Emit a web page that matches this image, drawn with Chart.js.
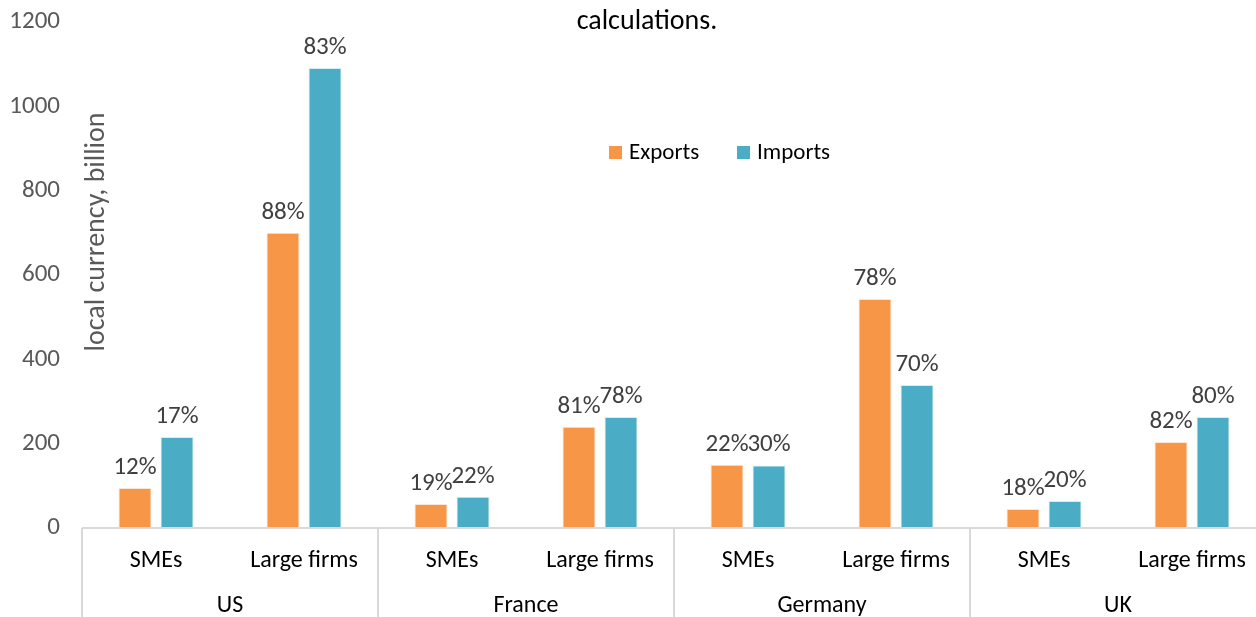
<!DOCTYPE html>
<html>
<head>
<meta charset="utf-8">
<script src="https://cdn.jsdelivr.net/npm/chart.js@4"></script>
<style>
  html, body { margin: 0; padding: 0; background: #fff; overflow: hidden; }
  #wrap { width: 1268px; height: 617px; }
</style>
</head>
<body>
<div id="wrap"><canvas id="chart" width="1268" height="617"></canvas></div>
<script>
// data
const subLabels = ['SMEs', 'Large firms', 'SMEs', 'Large firms', 'SMEs', 'Large firms', 'SMEs', 'Large firms'];
const countries = ['US', 'France', 'Germany', 'UK'];
const exportsVal = [95, 700, 57, 240, 150, 543, 45, 204];
const importsVal = [216, 1091, 74, 263, 148, 339, 64, 263];
const exportsPct = ['12%', '88%', '19%', '81%', '22%', '78%', '18%', '82%'];
const importsPct = ['17%', '83%', '22%', '78%', '30%', '70%', '20%', '80%'];
const yTicks = [0, 200, 400, 600, 800, 1000, 1200];

const FONT = 'Carlito, Lato, sans-serif';
const orange = '#F79646';
const blue = '#4BACC6';

const extras = {
  id: 'extras',
  afterDraw(chart) {
    const ctx = chart.ctx;
    const area = chart.chartArea;
    const xs = chart.scales.x;
    const step = xs.getPixelForValue(1) - xs.getPixelForValue(0);
    ctx.save();

    // axis line and group separators
    ctx.strokeStyle = '#d9d9d9';
    ctx.lineWidth = 2;
    ctx.beginPath();
    ctx.moveTo(area.left, area.bottom);
    ctx.lineTo(chart.width, area.bottom);
    for (let g = 0; g <= countries.length; g++) {
      const x = Math.round(xs.getPixelForValue(g * 2) - step / 2);
      ctx.moveTo(x, area.bottom);
      ctx.lineTo(x, chart.height);
    }
    ctx.stroke();

    // country labels
    ctx.fillStyle = '#000';
    ctx.font = '24px ' + FONT;
    ctx.textAlign = 'center';
    ctx.textBaseline = 'middle';
    countries.forEach((c, g) => {
      const x = (xs.getPixelForValue(g * 2) + xs.getPixelForValue(g * 2 + 1)) / 2;
      ctx.fillText(c, x, area.bottom + 78);
    });

    // value labels
    ctx.fillStyle = '#404040';
    ctx.font = '25px ' + FONT;
    ctx.textBaseline = 'bottom';
    [exportsPct, importsPct].forEach((pcts, di) => {
      const meta = chart.getDatasetMeta(di);
      meta.data.forEach((bar, i) => {
        ctx.fillText(pcts[i], bar.x, bar.y - 8);
      });
    });

    // legend
    ctx.font = '23px ' + FONT;
    ctx.textAlign = 'left';
    ctx.textBaseline = 'middle';
    const items = [['Exports', orange, 609], ['Imports', blue, 737]];
    items.forEach(([t, col, x]) => {
      ctx.fillStyle = col;
      ctx.fillRect(x, 146, 13, 13);
      ctx.fillStyle = '#000';
      ctx.fillText(t, x + 20, 153);
    });

    // title (cut off at the top)
    ctx.font = '28px ' + FONT;
    ctx.textAlign = 'center';
    ctx.fillText('calculations.', 647, 22);

    // axis title inside plot
    ctx.translate(97, 232);
    ctx.rotate(-Math.PI / 2);
    ctx.fillStyle = '#595959';
    ctx.font = '28px ' + FONT;
    ctx.fillText('local currency, billion', 0, 0);
    ctx.restore();
  }
};

new Chart(document.getElementById('chart'), {
  type: 'bar',
  data: {
    labels: subLabels,
    datasets: [
      { label: 'Exports', data: exportsVal, backgroundColor: orange, borderColor: '#fde5d3', borderWidth: 1 },
      { label: 'Imports', data: importsVal, backgroundColor: blue, borderColor: '#d5eef4', borderWidth: 1 }
    ]
  },
  options: {
    responsive: false,
    animation: false,
    categoryPercentage: 0.568,
    barPercentage: 0.786,
    layout: { padding: { top: 22, right: 2, left: 0, bottom: 0 } },
    plugins: { legend: { display: false }, tooltip: { enabled: false } },
    scales: {
      x: {
        grid: { display: false, drawTicks: false },
        border: { display: false },
        ticks: { color: '#000', font: { family: FONT, size: 24 }, padding: 19, maxRotation: 0, autoSkip: false },
        afterFit: s => { s.height = 89; }
      },
      y: {
        min: 0, max: 1200,
        afterBuildTicks: s => { s.ticks = yTicks.map(v => ({ value: v })); },
        grid: { display: false, drawTicks: false },
        border: { display: false },
        ticks: { color: '#595959', font: { family: FONT, size: 25 }, padding: 22, callback: v => String(v) },
        afterFit: s => { s.width = 82; s.paddingTop = 0; s.paddingBottom = 0; }
      }
    }
  },
  plugins: [extras]
});
</script>
</body>
</html>
